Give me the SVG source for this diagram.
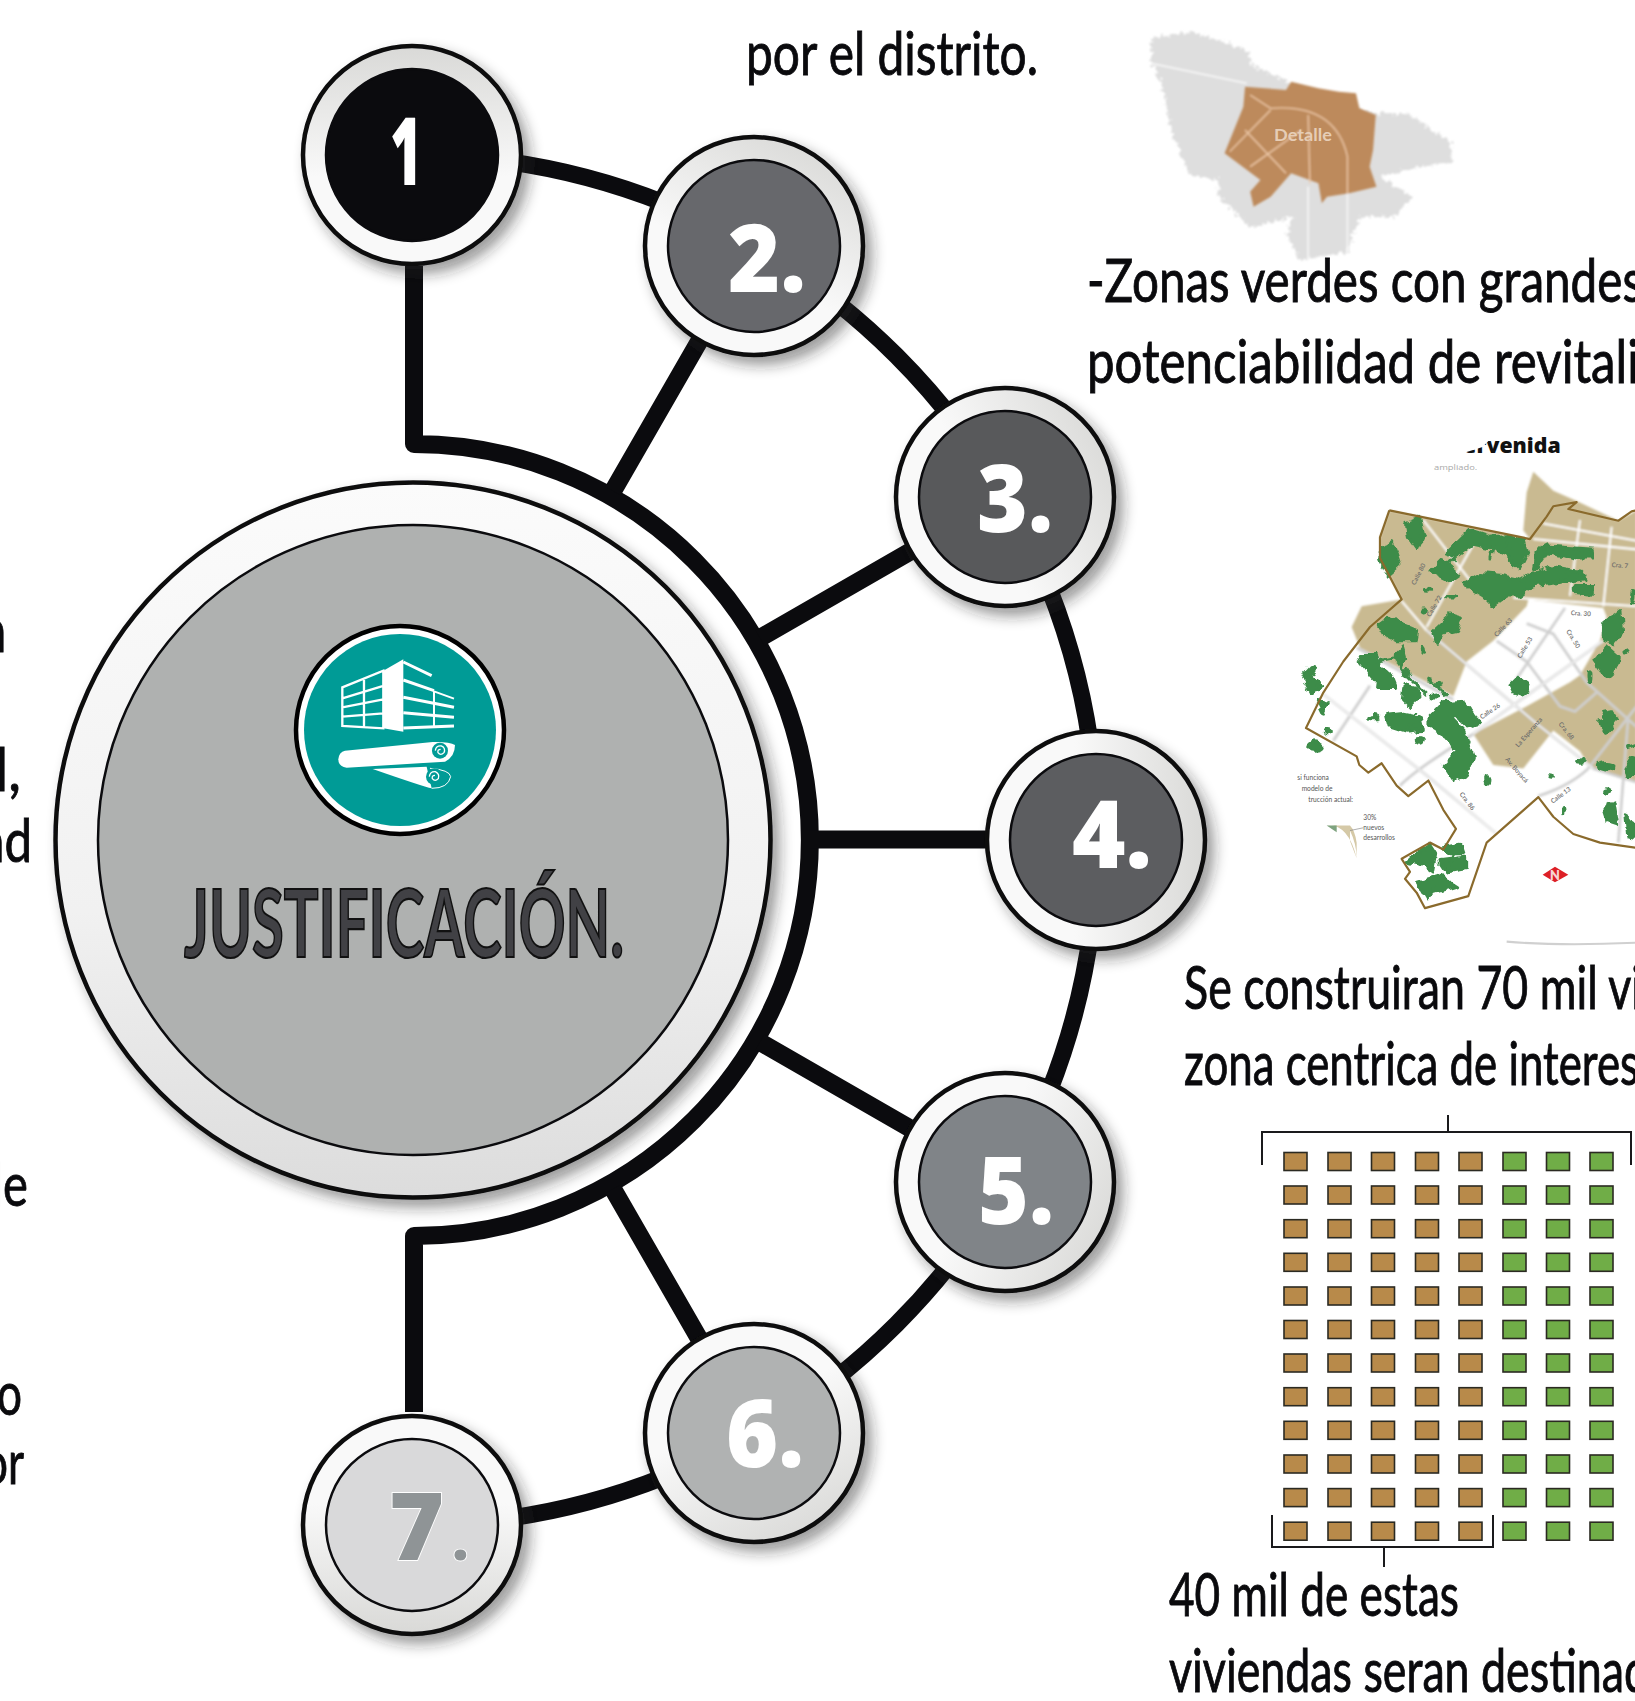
<svg xmlns="http://www.w3.org/2000/svg" width="1635" height="1701" viewBox="0 0 1635 1701">
<style>
text{font-family:"Lato","Open Sans",sans-serif}
.body{font-size:60px;fill:#0a0a0d;stroke:#0a0a0d;stroke-width:0.9}
.num{font-family:"Open Sans",sans-serif;font-size:94px;font-weight:800;fill:#fff}
.ring{stroke:#0b0b0e;stroke-width:4.5}
.core{stroke:#0b0b0e;stroke-width:2.5}
.conn{fill:none;stroke:#0b0b0e;stroke-linejoin:round}
.house{stroke:#2b2a22;stroke-width:1.6}
.brown{fill:#b88a4a}
.green{fill:#70ad47}
.brk{fill:none;stroke:#1a1a1c;stroke-width:2}
.bl{fill:#3d8c49;stroke:#3d8c49;stroke-width:9;stroke-linejoin:round;stroke-linecap:round}
.rg{fill:none;stroke:#cfcfcf;stroke-width:8}
.rw{fill:none;stroke:#fff;stroke-width:3}
.ml{font-family:"Open Sans",sans-serif;font-size:19px;font-weight:600;fill:#6b6b6b}
.lg{font-family:"Open Sans",sans-serif;font-size:20px;font-weight:400;fill:#555}
.wl{fill:none;stroke:#fff;stroke-width:6}
</style>
<defs>
<linearGradient id="g1" x1="0.5" y1="1" x2="0.5" y2="0"><stop offset="0.4" stop-color="#f9f9f9"/><stop offset="1" stop-color="#d9d9d7"/></linearGradient>
<linearGradient id="g2" x1="0.25" y1="1" x2="0.75" y2="0"><stop offset="0.4" stop-color="#f9f9f9"/><stop offset="1" stop-color="#d9d9d7"/></linearGradient>
<linearGradient id="g3" x1="0" y1="0.75" x2="1" y2="0.25"><stop offset="0.4" stop-color="#f9f9f9"/><stop offset="1" stop-color="#d9d9d7"/></linearGradient>
<linearGradient id="g4" x1="0" y1="0.5" x2="1" y2="0.5"><stop offset="0.4" stop-color="#f9f9f9"/><stop offset="1" stop-color="#d9d9d7"/></linearGradient>
<linearGradient id="g5" x1="0" y1="0.25" x2="1" y2="0.75"><stop offset="0.4" stop-color="#f9f9f9"/><stop offset="1" stop-color="#d9d9d7"/></linearGradient>
<linearGradient id="g6" x1="0.25" y1="0" x2="0.75" y2="1"><stop offset="0.4" stop-color="#f9f9f9"/><stop offset="1" stop-color="#d9d9d7"/></linearGradient>
<linearGradient id="g7" x1="0.5" y1="0" x2="0.5" y2="1"><stop offset="0.4" stop-color="#f9f9f9"/><stop offset="1" stop-color="#d9d9d7"/></linearGradient>
<linearGradient id="bigGrad" x1="0.5" y1="0" x2="0.5" y2="1"><stop offset="0" stop-color="#fbfbfb"/><stop offset="0.6" stop-color="#f1f1f1"/><stop offset="1" stop-color="#dcdcdc"/></linearGradient>
<filter id="sh" x="-20%" y="-20%" width="150%" height="150%"><feDropShadow dx="7" dy="8" stdDeviation="7" flood-color="#222" flood-opacity="0.45"/></filter>
<filter id="blur" x="-5%" y="-5%" width="110%" height="110%"><feGaussianBlur stdDeviation="2.4"/></filter>
<filter id="rough" x="-5%" y="-5%" width="110%" height="110%"><feTurbulence type="fractalNoise" baseFrequency="0.035" numOctaves="2" seed="4" result="n"/><feDisplacementMap in="SourceGraphic" in2="n" scale="26" xChannelSelector="R" yChannelSelector="G"/><feGaussianBlur stdDeviation="1.6"/></filter>
<filter id="rough2" x="-5%" y="-5%" width="110%" height="110%"><feTurbulence type="fractalNoise" baseFrequency="0.09" numOctaves="2" seed="7" result="n"/><feDisplacementMap in="SourceGraphic" in2="n" scale="32" xChannelSelector="R" yChannelSelector="G"/><feGaussianBlur stdDeviation="2.5"/></filter>
</defs>
<rect width="1635" height="1701" fill="#fff"/>

<g id="map-detalle" transform="translate(1100,0) scale(0.3413,0.3333)">
<g filter="url(#rough2)">
<polygon fill="#dedede" points="150,115 270,95 430,150 445,195 560,250 800,340 900,340 1030,430 1030,490 930,500 825,530 915,590 860,650 760,650 725,755 585,780 545,700 570,650 440,685 410,650 345,590 350,540 265,525 210,400 180,250 150,190"/>
</g>
<g filter="url(#blur)">
<path d="M150,190 L430,250 M610,560 L610,780 M725,560 L725,760" fill="none" stroke="#f6f6f6" stroke-width="5"/>
<polygon fill="#bd8a5c" points="425,260 545,270 560,245 640,265 700,275 750,280 760,325 808,345 800,450 790,500 810,560 730,580 665,590 650,610 640,550 560,520 500,590 450,620 440,575 470,540 365,460 420,320"/>
<path d="M440,285 L500,325 Q690,310 725,470 L725,580 M610,345 L615,550 M380,455 L500,330 M425,390 L545,520 M440,500 L590,390" fill="none" stroke="#eec9a8" stroke-width="4"/>
</g>
<text x="595" y="422" text-anchor="middle" font-size="52" font-weight="700" fill="#e6cdb6" textLength="170" lengthAdjust="spacingAndGlyphs">Detalle</text>
</g>

<g id="map-intervenida" transform="translate(1260,420) scale(0.3333,0.345)">
<path d="M740,1512 Q900,1525 1130,1515" fill="none" stroke="#d0d0d0" stroke-width="6"/>
<g filter="url(#blur)">
<polygon fill="#c9ba91" points="388,262 810,345 790,320 800,210 820,150 880,205 950,235 1075,292 1130,262 1130,1050 1030,1020 985,1000 960,960 880,900 790,1010 700,1000 640,910 800,830 930,760 960,740 1020,640 1040,570 1030,545 805,520 800,540 700,640 620,700 580,800 300,660 275,600 305,540 425,520 360,400 360,340"/>
<path class="wl" d="M490,290 L630,465 M640,360 L500,600 M425,525 L500,610 M820,345 L1130,375 M760,515 L1130,540 M960,290 L930,510 M1055,310 L1030,540 M850,300 L1130,350"/>
<path class="rg" d="M500,610 L830,880 L1000,1010 L1130,1050 M640,910 L1030,640 M915,545 L770,750 M290,660 L580,810 M190,795 L500,1030 L710,1200 M330,770 L220,930 M420,1060 Q470,1010 640,910 M835,1090 Q930,1060 985,1010 M1105,860 L1075,1225 M1130,830 L985,1010 M800,590 L880,620 L980,760 L1130,890 M710,640 L800,700 L900,830 L945,845 L1010,790"/>
<path class="rw" d="M500,610 L830,880 L1000,1010 M190,795 L500,1030 L710,1200 M640,910 L1030,640"/>
</g>
<g class="bl" filter="url(#rough)">
<polygon points="440,300 480,285 490,330 470,375 445,340"/>
<polygon points="365,370 395,350 410,390 420,420 385,450 362,410"/>
<polygon points="560,385 630,320 690,340 740,335 790,350 800,390 780,430 740,390 690,370 640,360 590,395"/>
<polygon points="610,475 660,445 720,450 790,465 830,440 880,425 960,440 975,460 900,470 820,480 780,510 740,510 700,540 670,510"/>
<polygon points="820,430 830,380 860,365 1000,375 1000,400 950,400 860,385 830,430"/>
<polygon points="940,480 1000,480 1000,505 940,500"/>
<polygon points="510,440 545,405 600,450 570,470 530,450"/>
<polygon points="520,610 570,565 605,575 590,610 545,620 530,650"/>
<polygon points="355,595 385,575 420,590 470,610 465,640 410,640 370,620"/>
<polygon points="300,680 350,680 360,720 400,750 410,775 360,775 320,730"/>
<polygon points="405,680 430,655 440,690 420,710"/>
<polygon points="435,770 470,780 480,800 450,830 430,810"/>
<polygon points="380,855 430,850 480,860 490,900 440,905 390,890"/>
<polygon points="510,860 550,820 610,815 660,880 620,890 590,860 570,860 610,900 640,980 620,1030 580,1045 550,1000 590,960 560,920 510,890"/>
<polygon points="125,740 150,715 170,720 150,750 185,775 150,785"/>
<polygon points="1030,590 1080,550 1085,620 1060,650 1030,640"/>
<polygon points="1005,700 1040,660 1075,690 1060,740 1030,735"/>
<polygon points="750,770 775,745 810,770 790,800 760,790"/>
<polygon points="1010,875 1040,870 1025,845 1050,840 1070,870 1040,905 1025,885"/>
<polygon points="1095,1010 1115,980 1130,985 1130,1030 1100,1030"/>
<polygon points="445,1280 510,1230 530,1260 520,1310 490,1290"/>
<polygon points="540,1280 620,1270 620,1300 560,1310"/>
<polygon points="470,1340 540,1320 590,1350 520,1370 500,1390"/>
<polygon points="545,1240 600,1230 610,1260 570,1260"/>
<polygon points="1030,1130 1060,1110 1070,1170 1040,1160"/>
<polygon points="1095,1150 1130,1170 1130,1210 1100,1205"/>
<polygon points="170,810 205,820 190,850"/>
<path fill="none" d="M825,420 V385 Q900,360 1000,385 M905,460 Q960,420 975,450 M780,470 L820,440 M740,350 L760,420 M600,380 L560,420 M700,350 L690,400 M300,700 L350,760 M350,700 L400,690 M470,845 L440,900 M405,690 L440,740 M440,740 L500,800 M520,760 L560,800 M1100,950 L1130,940 M590,1245 L560,1300 M520,1340 L500,1390 M1050,1120 L1040,1165"/>
<ellipse cx="340" cy="860" rx="14" ry="3"/><ellipse cx="165" cy="945" rx="22" ry="9"/><ellipse cx="960" cy="990" rx="13" ry="5"/><ellipse cx="1040" cy="1005" rx="22" ry="9"/><ellipse cx="682" cy="1045" rx="5" ry="11"/><ellipse cx="1040" cy="1075" rx="9" ry="3"/><ellipse cx="872" cy="1033" rx="5" ry="2"/><ellipse cx="907" cy="1135" rx="2" ry="9"/><ellipse cx="205" cy="903" rx="9" ry="6"/><ellipse cx="478" cy="930" rx="9" ry="7"/><ellipse cx="490" cy="665" rx="3" ry="11"/><ellipse cx="440" cy="735" rx="13" ry="9"/><ellipse cx="510" cy="755" rx="7" ry="2"/><ellipse cx="540" cy="765" rx="7" ry="2"/><ellipse cx="525" cy="800" rx="11" ry="3"/><ellipse cx="1100" cy="672" rx="5" ry="3"/><ellipse cx="990" cy="740" rx="3" ry="13"/><ellipse cx="490" cy="555" rx="9" ry="7"/><ellipse cx="505" cy="490" rx="7" ry="3"/><ellipse cx="575" cy="510" rx="12" ry="3"/><ellipse cx="1120" cy="512" rx="5" ry="15"/>
</g>
<path fill="none" stroke="#8a6a2c" stroke-width="6.5" stroke-linejoin="round" d="M388,262 L810,345 L860,280 L880,250 L950,238 L925,258 L1075,292 L1115,265 L1130,262 M388,262 L360,340 L360,400 L425,520 L330,600 L250,700 L190,790 L138,893 L290,975 L298,1000 L325,1022 L365,995 L410,1060 L445,1090 L505,1045 L550,1130 L588,1185 L550,1245 L510,1225 L425,1272 L450,1310 L435,1330 L470,1370 L495,1415 L625,1380 L680,1225 L835,1093 L880,1150 L940,1200 L1020,1225 L1130,1240"/>
<path d="M200,1175 Q265,1170 290,1270 L290,1225 Q285,1190 270,1175 Z M270,1190 Q290,1230 290,1270 L270,1220 Z" fill="#d5c9a7"/>
<path d="M200,1175 L230,1175 L230,1195 Z" fill="#7ea37f"/>
<path d="M270,1190 L310,1182" stroke="#888" stroke-width="2"/>
<polygon points="848,1318 885,1295 925,1318 885,1340" fill="#dd1f26"/>
<text x="885" y="1332" text-anchor="middle" font-size="38" font-weight="800" fill="#f7d4d4">N</text>
<text x="610" y="97" style="font-family:'Open Sans',sans-serif;font-size:62px;font-weight:800;fill:#111" textLength="292" lengthAdjust="spacingAndGlyphs">ervenida</text>
<polygon points="596,40 706,40 668,78 596,100" fill="#fff"/>
<text x="522" y="146" style="font-family:'Open Sans',sans-serif;font-size:22px;font-weight:400;fill:#aaa" textLength="130" lengthAdjust="spacingAndGlyphs">ampliado.</text>
<g class="ml">
<text transform="translate(465,480) rotate(-62)">Calle 80</text>
<text transform="translate(510,572) rotate(-58)">Calle 72</text>
<text transform="translate(710,630) rotate(-45)">Calle 63</text>
<text transform="translate(782,692) rotate(-58)">Calle 53</text>
<text x="932" y="565" transform="rotate(4 932 565)">Cra. 30</text>
<text transform="translate(918,612) rotate(58)">Cra. 50</text>
<text x="1055" y="426" transform="rotate(5 1055 426)">Cra. 7</text>
<text transform="translate(665,868) rotate(-33)">Calle 26</text>
<text transform="translate(775,950) rotate(-48)">La Esperanza</text>
<text transform="translate(895,882) rotate(50)">Cra. 68</text>
<text transform="translate(735,985) rotate(48)">Av. Boyacá</text>
<text transform="translate(598,1085) rotate(52)">Cra. 86</text>
<text transform="translate(878,1112) rotate(-35)">Calle 13</text>
</g>
<g class="lg">
<text x="112" y="1043">si funciona</text>
<text x="125" y="1075">modelo de</text>
<text x="145" y="1107">trucción actual:</text>
<text x="310" y="1160">30%</text>
<text x="310" y="1189">nuevos</text>
<text x="310" y="1216">desarrollos</text>
</g>
</g>

<g id="texts">
<text class="body" x="746" y="75" textLength="292" lengthAdjust="spacingAndGlyphs">por el distrito.</text>
<text class="body" x="1087" y="302" textLength="556" lengthAdjust="spacingAndGlyphs">-Zonas verdes con grandes</text>
<text class="body" x="1087" y="383" textLength="552" lengthAdjust="spacingAndGlyphs">potenciabilidad de revitali</text>
<text class="body" x="1184" y="1009" textLength="458" lengthAdjust="spacingAndGlyphs">Se construiran 70 mil vi</text>
<text class="body" x="1184" y="1085" textLength="455" lengthAdjust="spacingAndGlyphs">zona centrica de interes</text>
<text class="body" x="1169" y="1616" textLength="290" lengthAdjust="spacingAndGlyphs">40 mil de estas</text>
<text class="body" x="1169" y="1692" textLength="480" lengthAdjust="spacingAndGlyphs">viviendas seran destinad</text>
<text class="body" x="-18" y="652" textLength="24" lengthAdjust="spacingAndGlyphs">n</text>
<text class="body" x="-5" y="791" textLength="26" lengthAdjust="spacingAndGlyphs">l,</text>
<text class="body" x="-20" y="862" textLength="52" lengthAdjust="spacingAndGlyphs">ad</text>
<text class="body" x="-8" y="1206" textLength="36" lengthAdjust="spacingAndGlyphs">le</text>
<text class="body" x="-3" y="1415" textLength="25" lengthAdjust="spacingAndGlyphs">o</text>
<text class="body" x="-17" y="1484" textLength="41" lengthAdjust="spacingAndGlyphs">or</text>
</g>

<g id="connectors">
<path class="conn" stroke-width="17" d="M412,155 A685,685 0 0 1 412,1525"/>
<path class="conn" stroke-width="18" d="M414,266 L414,444 A396,396 0 0 1 414,1236 L414,1412"/>
<path class="conn" stroke-width="18" d="M754,246 L613,491 M1005,497 L760,638 M1096,839.500 L809,839.500 M1005,1183 L760,1042 M754,1434 L613,1189"/>
</g>

<g id="hub">
<circle cx="413" cy="840" r="357.500" fill="url(#bigGrad)" stroke="#0b0b0e" stroke-width="4.500" filter="url(#sh)"/>
<circle cx="413" cy="840" r="315" fill="#afb1b0" stroke="#0b0b0e" stroke-width="2.500"/>
<text x="184" y="957" font-size="94" font-weight="700" fill="#414145" stroke="#111" stroke-width="2.200" textLength="440" lengthAdjust="spacingAndGlyphs">JUSTIFICACIÓN.</text>
<g id="icon">
<circle cx="400" cy="730" r="104" fill="#fff" stroke="#000" stroke-width="4.500"/>
<circle cx="400" cy="730" r="96" fill="#009b96"/>
<g transform="translate(250,600) scale(0.3333)">
<polygon fill="#fff" points="400,212 460,178 460,395 400,385"/>
<path fill="none" stroke="#fff" stroke-width="7" d="M277,262 L400,212 L400,385 L277,378 Z M277,295 L400,258 M277,322 L400,298 M277,350 L400,340 M342,240 L342,380"/>
<path fill="none" stroke="#fff" stroke-width="9" d="M460,186 L545,227 M460,240 L552,272 M460,292 L612,322 M460,338 L612,352 M460,384 L612,378"/>
<path fill="none" stroke="#fff" stroke-width="6" d="M552,272 L552,380 M552,274 L612,296"/>
<path fill="#fff" d="M285,452 L548,426 Q600,425 615,435 Q615,470 585,485 L290,503 Q265,500 265,478 Q267,455 285,452 Z"/>
<circle cx="570" cy="452" r="24" fill="#009b96"/>
<path d="M556,452 Q558,436 574,438 Q588,444 582,458 Q572,468 564,458 Q562,448 572,448" fill="none" stroke="#fff" stroke-width="4"/>
<path fill="#fff" d="M368,507 L530,500 L545,565 Q520,560 368,507 Z"/>
<path d="M540,505 Q600,510 602,530 Q595,565 545,565" fill="none" stroke="#fff" stroke-width="3"/>
<circle cx="553" cy="530" r="25" fill="#009b96"/>
<path d="M538,530 Q540,514 556,515 Q570,522 565,536 Q555,546 547,536 Q545,526 555,526" fill="none" stroke="#fff" stroke-width="4"/>
</g>
</g>
</g>

<g id="node-1"><circle class="ring" fill="url(#g1)" cx="412" cy="155" r="109" filter="url(#sh)"/><circle class="core" cx="412" cy="155" r="86" fill="#0b0b0e"/><text class="num" x="390" y="185" textLength="32" lengthAdjust="spacingAndGlyphs">1</text></g>
<g id="node-2"><circle class="ring" fill="url(#g2)" cx="754" cy="246" r="109" filter="url(#sh)"/><circle class="core" cx="754" cy="246" r="86" fill="#67686c"/><text class="num" x="728" y="292" textLength="78" lengthAdjust="spacingAndGlyphs">2.</text></g>
<g id="node-3"><circle class="ring" fill="url(#g3)" cx="1005" cy="497" r="109" filter="url(#sh)"/><circle class="core" cx="1005" cy="497" r="86" fill="#58595b"/><text class="num" x="977" y="532" textLength="76" lengthAdjust="spacingAndGlyphs">3.</text></g>
<g id="node-4"><circle class="ring" fill="url(#g4)" cx="1096" cy="840" r="109" filter="url(#sh)"/><circle class="core" cx="1096" cy="840" r="86" fill="#5c5d60"/><text class="num" x="1072" y="868" textLength="80" lengthAdjust="spacingAndGlyphs">4.</text></g>
<g id="node-5"><circle class="ring" fill="url(#g5)" cx="1005" cy="1182" r="109" filter="url(#sh)"/><circle class="core" cx="1005" cy="1182" r="86" fill="#808488"/><text class="num" x="978" y="1224" textLength="76" lengthAdjust="spacingAndGlyphs">5.</text></g>
<g id="node-6"><circle class="ring" fill="url(#g6)" cx="754" cy="1433" r="109" filter="url(#sh)"/><circle class="core" cx="754" cy="1433" r="86" fill="#b0b2b2"/><text class="num" x="726" y="1467" textLength="78" lengthAdjust="spacingAndGlyphs">6.</text></g>
<g id="node-7"><circle class="ring" fill="url(#g7)" cx="412" cy="1525" r="109" filter="url(#sh)"/><circle class="core" cx="412" cy="1525" r="86" fill="#d9d9da"/><text class="num" x="389" y="1560" style="fill:#8f9496;stroke:#fff;stroke-width:1.800;paint-order:stroke">7<tspan dx="8" style="font-size:58px">.</tspan></text></g>

<g id="housing">
<path class="brk" d="M1262,1165 V1132 H1631 V1165 M1448,1132 V1115 M1272,1515 V1547 H1493 V1515 M1384,1547 V1567"/>
<g class="house">
<g class="brown">
<rect x="1284" y="1152.5" width="23" height="18"/><rect x="1328" y="1152.5" width="23" height="18"/><rect x="1371.500" y="1152.5" width="23" height="18"/><rect x="1415.500" y="1152.5" width="23" height="18"/><rect x="1459" y="1152.5" width="23" height="18"/>
<rect x="1284" y="1186" width="23" height="18"/><rect x="1328" y="1186" width="23" height="18"/><rect x="1371.500" y="1186" width="23" height="18"/><rect x="1415.500" y="1186" width="23" height="18"/><rect x="1459" y="1186" width="23" height="18"/>
<rect x="1284" y="1219.700" width="23" height="18"/><rect x="1328" y="1219.700" width="23" height="18"/><rect x="1371.500" y="1219.700" width="23" height="18"/><rect x="1415.500" y="1219.700" width="23" height="18"/><rect x="1459" y="1219.700" width="23" height="18"/>
<rect x="1284" y="1253.300" width="23" height="18"/><rect x="1328" y="1253.300" width="23" height="18"/><rect x="1371.500" y="1253.300" width="23" height="18"/><rect x="1415.500" y="1253.300" width="23" height="18"/><rect x="1459" y="1253.300" width="23" height="18"/>
<rect x="1284" y="1287" width="23" height="18"/><rect x="1328" y="1287" width="23" height="18"/><rect x="1371.500" y="1287" width="23" height="18"/><rect x="1415.500" y="1287" width="23" height="18"/><rect x="1459" y="1287" width="23" height="18"/>
<rect x="1284" y="1320.500" width="23" height="18"/><rect x="1328" y="1320.500" width="23" height="18"/><rect x="1371.500" y="1320.500" width="23" height="18"/><rect x="1415.500" y="1320.500" width="23" height="18"/><rect x="1459" y="1320.500" width="23" height="18"/>
<rect x="1284" y="1354" width="23" height="18"/><rect x="1328" y="1354" width="23" height="18"/><rect x="1371.500" y="1354" width="23" height="18"/><rect x="1415.500" y="1354" width="23" height="18"/><rect x="1459" y="1354" width="23" height="18"/>
<rect x="1284" y="1387.700" width="23" height="18"/><rect x="1328" y="1387.700" width="23" height="18"/><rect x="1371.500" y="1387.700" width="23" height="18"/><rect x="1415.500" y="1387.700" width="23" height="18"/><rect x="1459" y="1387.700" width="23" height="18"/>
<rect x="1284" y="1421.300" width="23" height="18"/><rect x="1328" y="1421.300" width="23" height="18"/><rect x="1371.500" y="1421.300" width="23" height="18"/><rect x="1415.500" y="1421.300" width="23" height="18"/><rect x="1459" y="1421.300" width="23" height="18"/>
<rect x="1284" y="1455" width="23" height="18"/><rect x="1328" y="1455" width="23" height="18"/><rect x="1371.500" y="1455" width="23" height="18"/><rect x="1415.500" y="1455" width="23" height="18"/><rect x="1459" y="1455" width="23" height="18"/>
<rect x="1284" y="1488.600" width="23" height="18"/><rect x="1328" y="1488.600" width="23" height="18"/><rect x="1371.500" y="1488.600" width="23" height="18"/><rect x="1415.500" y="1488.600" width="23" height="18"/><rect x="1459" y="1488.600" width="23" height="18"/>
<rect x="1284" y="1522.200" width="23" height="18"/><rect x="1328" y="1522.200" width="23" height="18"/><rect x="1371.500" y="1522.200" width="23" height="18"/><rect x="1415.500" y="1522.200" width="23" height="18"/><rect x="1459" y="1522.200" width="23" height="18"/>
</g>
<g class="green">
<rect x="1503" y="1152.5" width="23" height="18"/><rect x="1546.500" y="1152.5" width="23" height="18"/><rect x="1590" y="1152.5" width="23" height="18"/>
<rect x="1503" y="1186" width="23" height="18"/><rect x="1546.500" y="1186" width="23" height="18"/><rect x="1590" y="1186" width="23" height="18"/>
<rect x="1503" y="1219.700" width="23" height="18"/><rect x="1546.500" y="1219.700" width="23" height="18"/><rect x="1590" y="1219.700" width="23" height="18"/>
<rect x="1503" y="1253.300" width="23" height="18"/><rect x="1546.500" y="1253.300" width="23" height="18"/><rect x="1590" y="1253.300" width="23" height="18"/>
<rect x="1503" y="1287" width="23" height="18"/><rect x="1546.500" y="1287" width="23" height="18"/><rect x="1590" y="1287" width="23" height="18"/>
<rect x="1503" y="1320.500" width="23" height="18"/><rect x="1546.500" y="1320.500" width="23" height="18"/><rect x="1590" y="1320.500" width="23" height="18"/>
<rect x="1503" y="1354" width="23" height="18"/><rect x="1546.500" y="1354" width="23" height="18"/><rect x="1590" y="1354" width="23" height="18"/>
<rect x="1503" y="1387.700" width="23" height="18"/><rect x="1546.500" y="1387.700" width="23" height="18"/><rect x="1590" y="1387.700" width="23" height="18"/>
<rect x="1503" y="1421.300" width="23" height="18"/><rect x="1546.500" y="1421.300" width="23" height="18"/><rect x="1590" y="1421.300" width="23" height="18"/>
<rect x="1503" y="1455" width="23" height="18"/><rect x="1546.500" y="1455" width="23" height="18"/><rect x="1590" y="1455" width="23" height="18"/>
<rect x="1503" y="1488.600" width="23" height="18"/><rect x="1546.500" y="1488.600" width="23" height="18"/><rect x="1590" y="1488.600" width="23" height="18"/>
<rect x="1503" y="1522.200" width="23" height="18"/><rect x="1546.500" y="1522.200" width="23" height="18"/><rect x="1590" y="1522.200" width="23" height="18"/>
</g>
</g>
</g>
</svg>
